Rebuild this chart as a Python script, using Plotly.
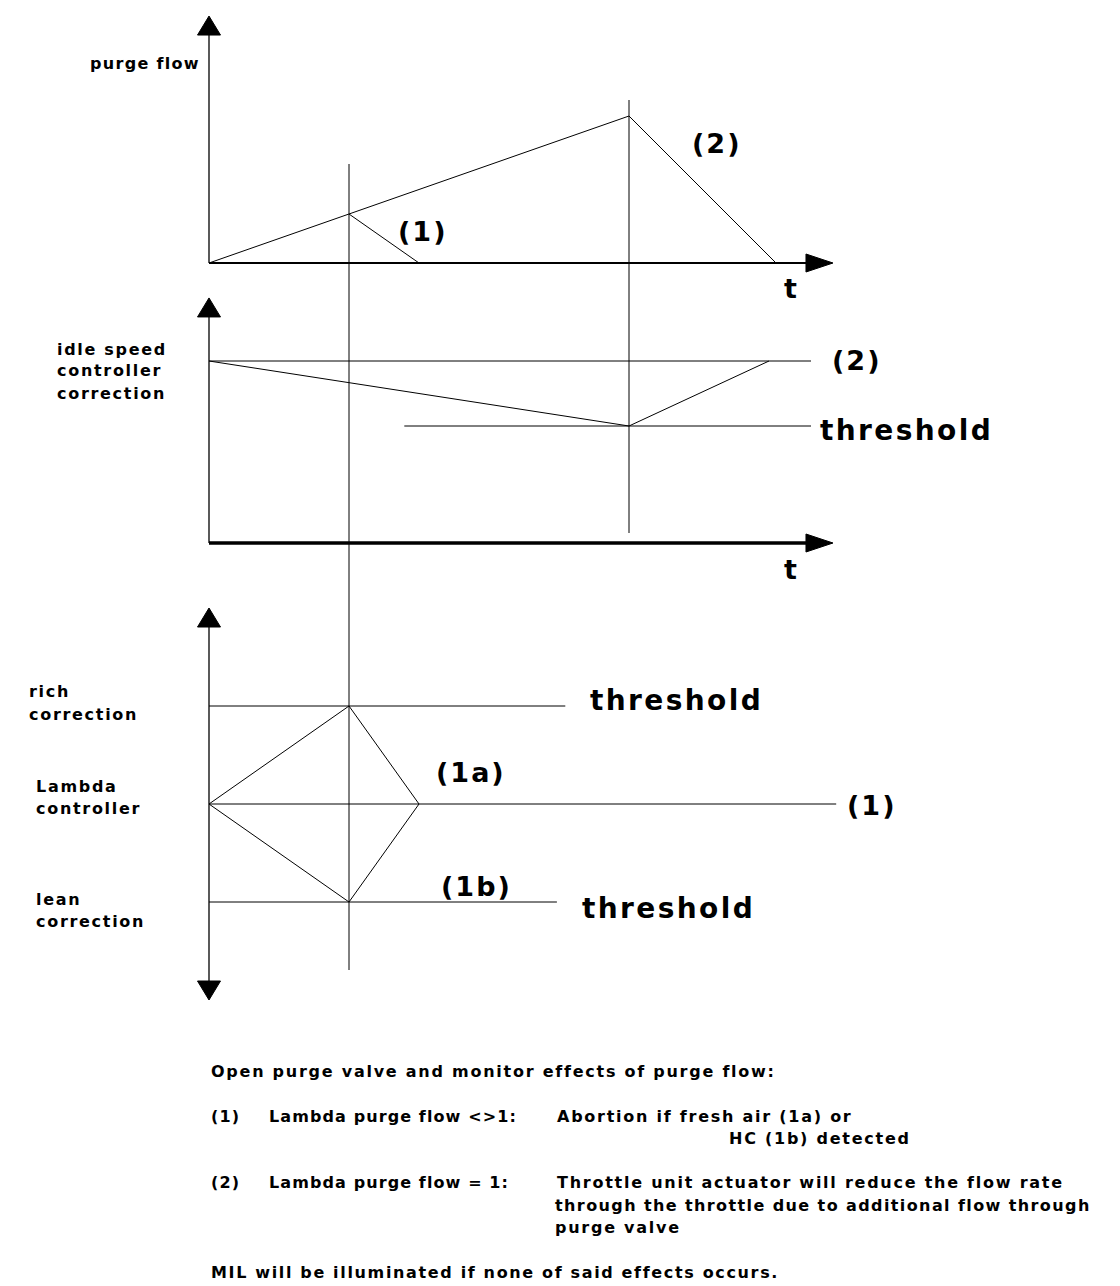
import plotly.graph_objects as go

W, H = 1120, 1286

# ---------------- data (time in arbitrary units) ----------------
t_abort = 2.0      # event (1): purge aborted
t_switch = 6.0     # event (2)

# purge flow panel
purge_ramp_t = [0, 2, 6]
purge_ramp_v = [0, 1, 3]
purge_case1_t = [2, 3]
purge_case1_v = [1, 0]
purge_case2_t = [6, 8.1]
purge_case2_v = [3, 0]
purge_axis_t_end = 8.914
purge_axis_v_end = 5.04

# idle speed controller correction panel
idle_ref_t = [0, 8.6]
idle_ref_v = [2.8, 2.8]
idle_path_t = [0, 6, 8]
idle_path_v = [2.8, 1.8, 2.8]
idle_thr_t = [2.79, 8.6]
idle_thr_v = [1.8, 1.8]
idle_axis_t_end = 8.914
idle_axis_v_end = 3.77

# lambda controller panel
lam_rich_t = [0, 5.09]
lam_rich_v = [1, 1]
lam_mid_t = [0, 8.96]
lam_mid_v = [0, 0]
lam_lean_t = [0, 4.97]
lam_lean_v = [-1, -1]
lam_path_t = [0, 2, 3, 2, 0]
lam_path_v = [0, 1, 0, -1, 0]
lam_axis_v_ends = [-2.0, 2.0]

# ---------------- layout helpers ----------------
T_MIN, T_MAX = -209 / 70, (W - 209) / 70
PX_T = W / (T_MAX - T_MIN)

panels = {
    "y": dict(origin=263, unit=49, top=0, bottom=290),
    "y2": dict(origin=543, unit=65, top=290, bottom=590),
    "y3": dict(origin=804, unit=98, top=590, bottom=H),
}

FONT = "DejaVu Sans"
fig = go.Figure()


def line(t, v, ax, width=1.0):
    fig.add_trace(go.Scatter(x=t, y=v, yaxis=ax, mode="lines",
                             line=dict(color="black", width=width),
                             hoverinfo="skip", showlegend=False))


def head(t, v, ax, direction, length_px, width_px):
    u = panels[ax]["unit"]
    if direction in ("up", "down"):
        s = 1 if direction == "up" else -1
        hw = width_px / 2 / PX_T
        bv = v - s * length_px / u
        xs = [t, t - hw, t + hw, t]
        ys = [v, bv, bv, v]
    else:
        hw = width_px / 2 / u
        bt = t - length_px / PX_T
        xs = [t, bt, bt, t]
        ys = [v, v - hw, v + hw, v]
    fig.add_trace(go.Scatter(x=xs, y=ys, yaxis=ax, mode="lines", fill="toself",
                             fillcolor="black", line=dict(color="black", width=1),
                             hoverinfo="skip", showlegend=False))


# purge flow panel
line([0, 0], [0, purge_axis_v_end - 0.3], "y", 1.3)
line([0, purge_axis_t_end - 0.3], [0, 0], "y", 2)
head(0, purge_axis_v_end, "y", "up", 19, 23)
head(purge_axis_t_end, 0, "y", "right", 27, 18)
line(purge_ramp_t, purge_ramp_v, "y")
line(purge_case1_t, purge_case1_v, "y")
line(purge_case2_t, purge_case2_v, "y")

# idle panel
line([0, 0], [0, idle_axis_v_end - 0.25], "y2", 1.3)
line([0, idle_axis_t_end - 0.3], [0, 0], "y2", 3.5)
head(0, idle_axis_v_end, "y2", "up", 19, 23)
head(idle_axis_t_end, 0, "y2", "right", 27, 18)
line(idle_ref_t, idle_ref_v, "y2")
line(idle_thr_t, idle_thr_v, "y2")
line(idle_path_t, idle_path_v, "y2")

# lambda panel
line([0, 0], [lam_axis_v_ends[0] + 0.15, lam_axis_v_ends[1] - 0.15], "y3", 1.3)
head(0, lam_axis_v_ends[1], "y3", "up", 19, 23)
head(0, lam_axis_v_ends[0], "y3", "down", 19, 23)
line(lam_rich_t, lam_rich_v, "y3")
line(lam_mid_t, lam_mid_v, "y3")
line(lam_lean_t, lam_lean_v, "y3")
line(lam_path_t, lam_path_v, "y3")

# long event markers spanning panels
fig.add_shape(type="line", xref="x", yref="paper", x0=t_abort, x1=t_abort,
              y0=1 - 970 / H, y1=1 - 164 / H, line=dict(color="black", width=1))
fig.add_shape(type="line", xref="x", yref="paper", x0=t_switch, x1=t_switch,
              y0=1 - 533 / H, y1=1 - 100 / H, line=dict(color="black", width=1))


def lab(text, xpx, ypx, size, xanchor="left", sp=1.5, weight="bold"):
    fig.add_annotation(
        text=f'<span style="letter-spacing:{sp}px">{text}</span>',
        x=xpx / W, y=1 - ypx / H, xref="paper", yref="paper",
        xanchor=xanchor, yanchor="middle", showarrow=False,
        font=dict(family=FONT, size=size, color="black", weight=weight))


# diagram labels
lab("purge flow", 202, 63, 16, "right", 1.3)
lab("(1)", 422, 232, 27, "center", 2)
lab("(2)", 717, 143, 27, "center", 2)
lab("t", 790, 288, 27, "center", 0)

lab("idle speed", 55, 349, 16, "left", 1.7)
lab("controller", 55, 371, 16, "left", 1.7)
lab("correction", 55, 393, 16, "left", 1.7)
lab("(2)", 857, 360, 27, "center", 2)
lab("threshold", 818, 430, 28, "left", 2.4)
lab("t", 790, 570, 27, "center", 0)

lab("rich", 27, 692, 16, "left", 1.7)
lab("correction", 27, 714, 16, "left", 1.7)
lab("Lambda", 34, 786, 16, "left", 1.7)
lab("controller", 34, 808, 16, "left", 1.7)
lab("lean", 34, 899, 16, "left", 1.7)
lab("correction", 34, 921, 16, "left", 1.7)
lab("threshold", 588, 700, 28, "left", 2.4)
lab("threshold", 580, 908, 28, "left", 2.4)
lab("(1a)", 471, 772, 27, "center", 2)
lab("(1b)", 476, 886, 27, "center", 2)
lab("(1)", 871, 805, 27, "center", 2)

# explanatory text
TS, TSP = 16, 1.75
lab("Open purge valve and monitor effects of purge flow:", 209, 1071, TS, "left", TSP)
lab("(1)", 209, 1116, TS, "left", 1.2)
lab("Lambda purge flow &lt;&gt;1:", 267, 1116, TS, "left", 1.1)
lab("Abortion if fresh air (1a) or", 555, 1116, TS, "left", TSP)
lab("HC (1b) detected", 727, 1138, TS, "left", TSP)
lab("(2)", 209, 1182, TS, "left", 1.2)
lab("Lambda purge flow = 1:", 267, 1182, TS, "left", 1.1)
lab("Throttle unit actuator will reduce the flow rate", 555, 1182, TS, "left", TSP)
lab("through the throttle due to additional flow through", 553, 1205, TS, "left", 1.4)
lab("purge valve", 553, 1227, TS, "left", TSP)
lab("MIL will be illuminated if none of said effects occurs.", 209, 1272, TS, "left", 1.65)

layout_axes = {}
for name, p in panels.items():
    key = "yaxis" if name == "y" else "yaxis" + name[1:]
    layout_axes[key] = dict(
        range=[(p["origin"] - p["bottom"]) / p["unit"], (p["origin"] - p["top"]) / p["unit"]],
        domain=[1 - p["bottom"] / H, 1 - p["top"] / H],
        anchor="x", visible=False, fixedrange=True)

fig.update_layout(
    width=W, height=H, margin=dict(l=0, r=0, t=0, b=0),
    paper_bgcolor="white", plot_bgcolor="white", showlegend=False,
    xaxis=dict(range=[T_MIN, T_MAX], domain=[0, 1], visible=False, fixedrange=True),
    **layout_axes,
)

fig.write_html("out.html", config={"displayModeBar": False},
               post_script="document.body.style.margin='0';document.body.style.overflow='hidden';")
